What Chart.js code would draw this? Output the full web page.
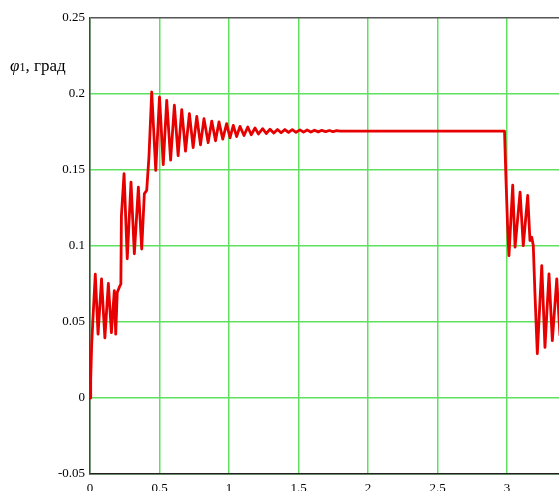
<!DOCTYPE html>
<html>
<head>
<meta charset="utf-8">
<script src="https://cdn.jsdelivr.net/npm/chart.js@4.4.1/dist/chart.umd.min.js"></script>
<style>
	html, body { margin: 0; padding: 0; background: #fff; overflow: hidden; }
	#wrap { position: relative; width: 559px; height: 505px; }
</style>
</head>
<body>
<div id="wrap"><canvas id="chart"></canvas></div>
<script>
// time, s / angle, deg, stage by stage
const tStart = [0, 0.005, 0.012, 0.02, 0.038, 0.058, 0.083, 0.107, 0.132, 0.154, 0.175, 0.185, 0.196, 0.211, 0.222];
const phiStart = [0, 0.012, 0.035, 0.05, 0.0814, 0.042, 0.0784, 0.0395, 0.0754, 0.043, 0.0707, 0.042, 0.0695, 0.0729, 0.075];

const tStep = [0.226, 0.245, 0.268, 0.295, 0.319, 0.348, 0.372, 0.391, 0.408, 0.424];
const phiStep = [0.12, 0.1476, 0.0916, 0.142, 0.0949, 0.1387, 0.098, 0.1344, 0.1366, 0.1585];

const tDecay = [
	0.444, 0.473, 0.5, 0.527, 0.552, 0.58, 0.607, 0.634, 0.66, 0.687,
	0.715, 0.742, 0.768, 0.795, 0.82, 0.85, 0.876, 0.903, 0.928, 0.955,
	0.983, 1.007, 1.031, 1.055, 1.079, 1.108, 1.135, 1.16, 1.187, 1.212,
	1.242, 1.268, 1.295, 1.322, 1.349, 1.375, 1.402, 1.428, 1.455, 1.482,
	1.51, 1.536, 1.562, 1.589, 1.615, 1.642, 1.668, 1.695, 1.722, 1.748,
	1.775, 1.8,
];
const phiDecay = [
	0.2013, 0.1497, 0.198, 0.1535, 0.1958, 0.1565, 0.1926, 0.1595, 0.1897, 0.1625,
	0.1871, 0.1648, 0.1853, 0.1665, 0.1838, 0.168, 0.1822, 0.1692, 0.1816, 0.1703,
	0.1805, 0.1712, 0.1794, 0.172, 0.1787, 0.1727, 0.1783, 0.1732, 0.1776, 0.1737,
	0.1772, 0.174, 0.1768, 0.1743, 0.1767, 0.1745, 0.1766, 0.1747, 0.1765, 0.1748,
	0.1764, 0.1749, 0.1763, 0.175, 0.1762, 0.1751, 0.1761, 0.1752, 0.176, 0.1753,
	0.1759, 0.1756,
];

const tDrop = [2.982, 2.993, 3.004, 3.014, 3.041, 3.058, 3.094, 3.117, 3.149, 3.165, 3.178, 3.189, 3.201, 3.218, 3.25, 3.273, 3.302, 3.326, 3.358, 3.381];
const phiDrop = [0.1756, 0.143, 0.1134, 0.0937, 0.14, 0.0992, 0.1355, 0.1003, 0.1333, 0.1036, 0.1058, 0.1003, 0.0687, 0.0292, 0.0871, 0.0333, 0.0817, 0.0377, 0.0784, 0.041];

const tAll = [...tStart, ...tStep, ...tDecay, ...tDrop];
const phiAll = [...phiStart, ...phiStep, ...phiDecay, ...phiDrop];
const points = tAll.map((t, i) => ({ x: t, y: phiAll[i] }));

const gridGreen = "rgb(95, 225, 95)";
const tickFont = { family: "'Liberation Serif', 'Times New Roman', serif", size: 13 };

// 0.20 -> "0.2", -0.00 -> "0"
const fmt = (v) => (Math.abs(v) < 1e-9 ? "0" : String(Number(v.toFixed(3))));

const axisTitle = {
	id: "axisTitle",
	afterDraw(chart) {
		const ctx = chart.ctx;
		ctx.save();
		ctx.fillStyle = "#000";
		ctx.textBaseline = "alphabetic";
		ctx.textAlign = "left";
		let x = 10;
		const y = 71;
		ctx.font = "italic 17px 'Liberation Serif', serif";
		ctx.fillText("φ", x, y);
		x += ctx.measureText("φ").width;
		ctx.font = "12px 'Liberation Serif', serif";
		ctx.fillText("1", x, y);
		x += ctx.measureText("1").width;
		ctx.font = "17px 'Liberation Serif', serif";
		ctx.fillText(", град", x, y);
		ctx.restore();
	},
};

new Chart(document.querySelector("#chart"), {
	type: "line",
	data: {
		datasets: [
			{
				data: points,
				borderColor: "#e60000",
				borderWidth: 2.8,
				borderJoinStyle: "round",
				pointRadius: 0,
				tension: 0,
				fill: false,
			},
		],
	},
	options: {
		responsive: true,
		maintainAspectRatio: false,
		animation: false,
		layout: { padding: { top: 18, right: 0, bottom: 0, left: 0 } },
		plugins: {
			legend: { display: false },
			tooltip: { enabled: false },
		},
		scales: {
			x: {
				type: "linear",
				min: 0,
				max: 3.374,
				afterFit: (s) => {
					s.height = 31;
				},
				ticks: {
					stepSize: 0.5,
					includeBounds: false,
					color: "#000",
					font: tickFont,
					padding: 7,
					maxRotation: 0,
					callback: (v) => fmt(v),
				},
				grid: { color: gridGreen, lineWidth: 1.5, drawTicks: false },
				border: { color: "#222", width: 1.5 },
			},
			y: {
				min: -0.05,
				max: 0.25,
				afterFit: (s) => {
					s.width = 90;
				},
				ticks: { stepSize: 0.05, color: "#000", font: tickFont, padding: 5, callback: (v) => fmt(v) },
				grid: {
					color: (c) => (Math.abs(c.tick.value - 0.25) < 1e-9 ? "#555" : gridGreen),
					lineWidth: 1.5,
					drawTicks: false,
				},
				border: { color: "#444", width: 1.5 },
			},
		},
	},
	plugins: [axisTitle],
});
</script>
</body>
</html>
